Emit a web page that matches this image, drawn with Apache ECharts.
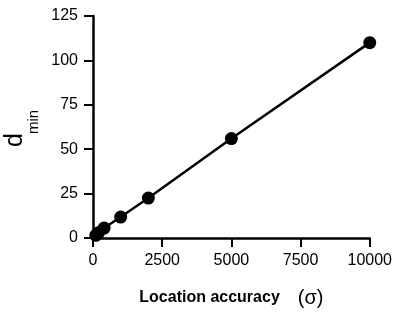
<!DOCTYPE html>
<html>
<head>
<meta charset="utf-8">
<script src="https://cdn.jsdelivr.net/npm/echarts@6/dist/echarts.min.js"></script>
<style>
  html, body { margin: 0; padding: 0; background: #fff; }
  #chart { width: 395px; height: 323px; }
</style>
</head>
<body>
<div id="chart"></div>
<script>
// Location accuracy (sigma) against minimum distance d_min
var sigmaValues = [100, 200, 400, 1000, 2000, 5000, 10000];
var dMinValues = [1.5, 3, 5.6, 11.8, 22.5, 56, 110];
var xTicks = [0, 2500, 5000, 7500, 10000];
var yTicks = [0, 25, 50, 75, 100, 125];

var points = sigmaValues.map(function (s, i) { return [s, dMinValues[i]]; });

var FONT = 'Liberation Sans, Arial, sans-serif';
var INK = '#000';

var chart = echarts.init(document.getElementById('chart'), null, { renderer: 'canvas' });

chart.setOption({
  backgroundColor: '#fff',
  animation: false,
  grid: { left: 93, right: 24, top: 16, bottom: 85, containLabel: false },
  xAxis: {
    type: 'value',
    min: xTicks[0],
    max: xTicks[xTicks.length - 1],
    interval: xTicks[1] - xTicks[0],
    name: '{t|Location accuracy}{g| }{p|(σ)}',
    nameLocation: 'middle',
    nameGap: 50,
    nameTextStyle: {
      rich: {
        t: { fontFamily: FONT, fontSize: 16, fontWeight: 'bold', color: INK },
        g: { fontFamily: FONT, fontSize: 16, width: 18 },
        p: { fontFamily: FONT, fontSize: 20, color: INK }
      }
    },
    splitLine: { show: false },
    axisLine: { show: true, lineStyle: { color: INK, width: 2.5 } },
    axisTick: { show: true, inside: false, length: 9, lineStyle: { color: INK, width: 2 } },
    axisLabel: {
      color: INK, fontFamily: FONT, fontSize: 16, margin: 15,
      formatter: function (v) { return String(v); }
    }
  },
  yAxis: {
    type: 'value',
    min: yTicks[0],
    max: yTicks[yTicks.length - 1],
    interval: yTicks[1] - yTicks[0],
    splitLine: { show: false },
    axisLine: { show: true, onZero: false, lineStyle: { color: INK, width: 2.5 } },
    axisTick: { show: true, inside: false, length: 9, lineStyle: { color: INK, width: 2 } },
    axisLabel: {
      color: INK, fontFamily: FONT, fontSize: 16, margin: 15,
      formatter: function (v) { return String(v); }
    }
  },
  graphic: [
    {
      type: 'text', x: 15, y: 140, rotation: Math.PI / 2,
      style: { text: 'd', fontFamily: FONT, fontSize: 25, fill: INK,
               align: 'center', verticalAlign: 'middle' }
    },
    {
      type: 'text', x: 34, y: 122, rotation: Math.PI / 2,
      style: { text: 'min', fontFamily: FONT, fontSize: 15, fill: INK,
               align: 'center', verticalAlign: 'middle' }
    }
  ],
  series: [{
    type: 'line',
    data: points,
    symbol: 'circle',
    symbolSize: 13,
    showSymbol: true,
    lineStyle: { color: INK, width: 2.5 },
    itemStyle: { color: INK },
    z: 3
  }]
});
</script>
</body>
</html>
